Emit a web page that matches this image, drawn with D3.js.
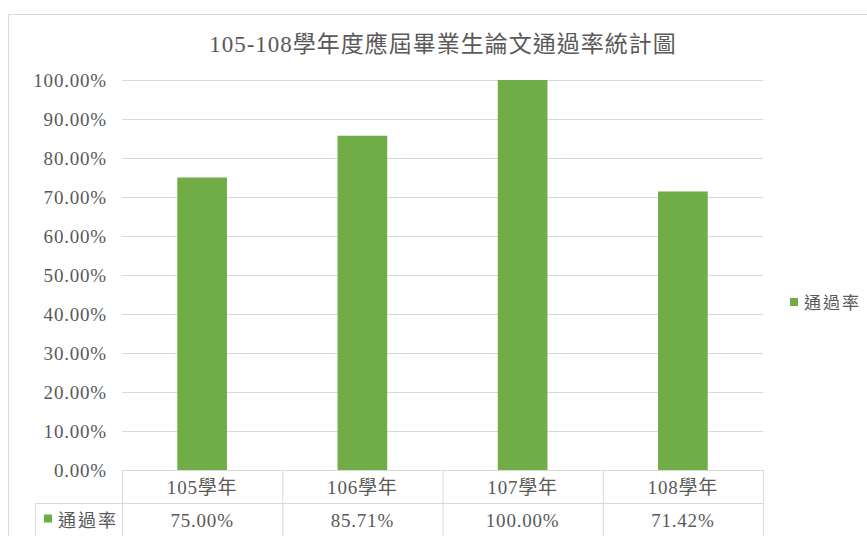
<!DOCTYPE html>
<html><head><meta charset="utf-8">
<script src="https://cdn.jsdelivr.net/npm/d3@7"></script>
<style>html,body{margin:0;padding:0;background:#fff;overflow:hidden}</style>
</head><body>
<svg id="chart" width="867" height="536"></svg>
<script>
const title = "105-108學年度應屆畢業生論文通過率統計圖";
const seriesName = "通過率";
const categories = ["105學年", "106學年", "107學年", "108學年"];
const values = [75.00, 85.71, 100.00, 71.42];
const yTicks = [0, 10, 20, 30, 40, 50, 60, 70, 80, 90, 100];

const W = 867, H = 536;
const plot = {left: 122, right: 763, top: 80, bottom: 470};
const rowH = 33;
const green = "#70AD47", grid = "#d9d9d9", txt = "#595959";
const fontFam = "'Liberation Serif','Noto Sans CJK TC',serif";

const svg = d3.select("#chart");
svg.append("rect").attr("x", 8.5).attr("y", 14.5).attr("width", 1000).attr("height", 1000)
  .attr("fill", "#fff").attr("stroke", grid);

const y = d3.scaleLinear().domain([0, 100]).range([plot.bottom, plot.top]);
const xCol = d3.scaleBand().domain(categories).range([plot.left, plot.right]).padding(0);
const x = d3.scaleBand().domain(categories).range([plot.left, plot.right]).paddingInner(0.69).paddingOuter(0.345);

// title
svg.append("text").attr("x", 443).attr("y", 52).attr("text-anchor", "middle")
  .attr("font-family", fontFam).attr("font-size", 23).attr("fill", txt).attr("letter-spacing", 1)
  .text(title);

// gridlines + y axis
const yAxis = d3.axisLeft(y).tickValues(yTicks).tickSize(-(plot.right - plot.left)).tickPadding(15)
  .tickFormat(d => d3.format(".2f")(d) + "%");
const gy = svg.append("g").attr("transform", `translate(${plot.left},0)`).call(yAxis);
gy.select(".domain").remove();
gy.selectAll(".tick line").attr("stroke", grid);
gy.selectAll(".tick text").attr("font-family", fontFam).attr("font-size", 19).attr("fill", txt)
  .attr("letter-spacing", 0.8);

// bars
svg.append("g").selectAll("rect").data(values).join("rect")
  .attr("x", (d, i) => x(categories[i])).attr("width", x.bandwidth())
  .attr("y", d => y(d)).attr("height", d => y(0) - y(d)).attr("fill", green);

// data table
const tg = svg.append("g");
const tableLeft = 35;
const lines = [];
lines.push([plot.left, plot.bottom, plot.right, plot.bottom]);
lines.push([tableLeft, plot.bottom + rowH, plot.right, plot.bottom + rowH]);
lines.push([tableLeft, plot.bottom + 2 * rowH, plot.right, plot.bottom + 2 * rowH]);
lines.push([tableLeft, plot.bottom + rowH, tableLeft, plot.bottom + 2 * rowH]);
categories.forEach(c => lines.push([xCol(c), plot.bottom, xCol(c), plot.bottom + 2 * rowH]));
lines.push([plot.right, plot.bottom, plot.right, plot.bottom + 2 * rowH]);
tg.selectAll("line").data(lines).join("line")
  .attr("x1", d => d[0] + 0.5).attr("y1", d => d[1] + 0.5).attr("x2", d => d[2] + 0.5).attr("y2", d => d[3] + 0.5)
  .attr("stroke", grid);

tg.selectAll("text.cat").data(categories).join("text").attr("class", "cat")
  .attr("x", d => xCol(d) + xCol.bandwidth() / 2).attr("y", plot.bottom + rowH / 2 + 7)
  .attr("text-anchor", "middle").attr("font-family", fontFam).attr("font-size", 19).attr("fill", txt)
  .attr("letter-spacing", 0.8).text(d => d);
tg.selectAll("text.val").data(values).join("text").attr("class", "val")
  .attr("x", (d, i) => xCol(categories[i]) + xCol.bandwidth() / 2).attr("y", plot.bottom + rowH * 1.5 + 7)
  .attr("text-anchor", "middle").attr("font-family", fontFam).attr("font-size", 19).attr("fill", txt)
  .attr("letter-spacing", 0.8).text(d => d3.format(".2f")(d) + "%");
tg.append("rect").attr("x", 44).attr("y", plot.bottom + rowH * 1.5 - 5).attr("width", 8).attr("height", 8).attr("fill", green);
tg.append("text").attr("x", 58).attr("y", plot.bottom + rowH * 1.5 + 7)
  .attr("font-family", fontFam).attr("font-size", 18).attr("fill", txt).attr("letter-spacing", 2).text(seriesName);

// legend
const lg = svg.append("g");
lg.append("rect").attr("x", 790).attr("y", 298).attr("width", 8).attr("height", 8).attr("fill", green);
lg.append("text").attr("x", 804).attr("y", 309).attr("font-family", fontFam).attr("font-size", 17)
  .attr("fill", txt).attr("letter-spacing", 2).text(seriesName);
</script>
</body></html>
